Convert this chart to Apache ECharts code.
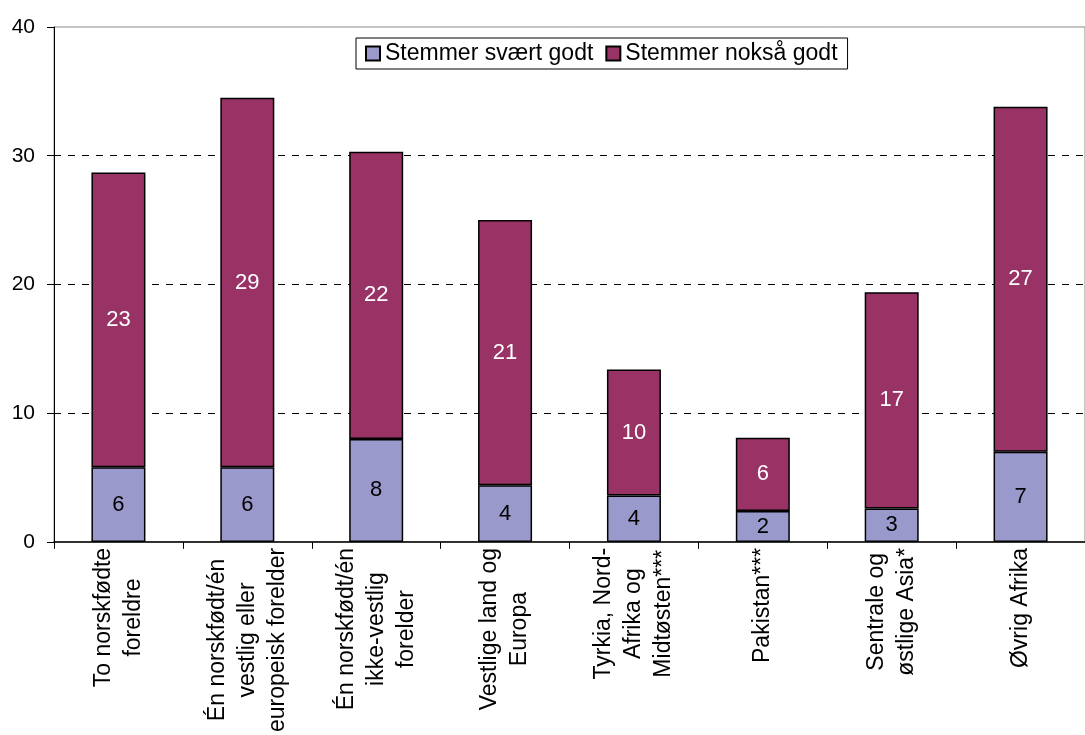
<!DOCTYPE html>
<html>
<head>
<meta charset="utf-8">
<script src="https://cdn.jsdelivr.net/npm/echarts@6/dist/echarts.min.js"></script>
<style>
  html, body { margin: 0; padding: 0; background: #fff; }
  #chart { width: 1085px; height: 735px; }
</style>
</head>
<body>
<div id="chart"></div>
<script>
// Data
const categories = [
    'To norskfødte\nforeldre',
    'Én norskfødt/én\nvestlig eller\neuropeisk forelder',
    'Én norskfødt/én\nikke-vestlig\nforelder',
    'Vestlige land og\nEuropa',
    'Tyrkia, Nord-\nAfrika og\nMidtøsten***',
    'Pakistan***',
    'Sentrale og\nøstlige Asia*',
    'Øvrig Afrika'
];
const seriesNames = ['Stemmer svært godt', 'Stemmer nokså godt'];
const svaertGodt = [5.8, 5.8, 8.0, 4.4, 3.6, 2.4, 2.6, 7.0];
const noksaaGodt = [22.9, 28.7, 22.3, 20.6, 9.8, 5.7, 16.8, 26.8];
const yTicks = { min: 0, max: 40, interval: 10 };

const FONT = '"Liberation Sans", Arial, sans-serif';

document.addEventListener('DOMContentLoaded', function() {
    const chart = echarts.init(document.getElementById('chart'));

    const option = {
        backgroundColor: '#fff',
        animation: false,
        textStyle: { fontFamily: FONT },
        grid: {
            left: 54,
            top: 27,
            width: 1041,
            height: 520,
            show: true,
            borderColor: '#8c8c8c',
            borderWidth: 1,
            backgroundColor: 'transparent'
        },
        legend: {
            left: 356,
            top: 38,
            padding: [4, 10, 4, 9],
            itemWidth: 14,
            itemHeight: 14,
            itemGap: 12,
            icon: 'rect',
            borderColor: '#000',
            borderWidth: 1,
            backgroundColor: '#fff',
            textStyle: { fontSize: 23, color: '#000', fontFamily: FONT },
            data: seriesNames
        },
        xAxis: {
            type: 'category',
            data: categories,
            boundaryGap: true,
            axisLine: { lineStyle: { color: '#000', width: 1.5 } },
            axisTick: { show: true, alignWithLabel: false, length: 7, lineStyle: { color: '#000' } },
            axisLabel: {
                interval: 0,
                rotate: 90,
                margin: 6,
                color: '#000',
                formatter: function(value) {
                    // centre every line inside the rotated block
                    return value.split('\n').map(s => '{c|' + s + '}').join('\n');
                },
                rich: {
                    c: { align: 'center', fontSize: 23, lineHeight: 30, color: '#000', fontFamily: FONT }
                }
            }
        },
        yAxis: {
            type: 'value',
            min: yTicks.min,
            max: yTicks.max,
            interval: yTicks.interval,
            axisLine: { show: true, lineStyle: { color: '#000', width: 1 } },
            axisTick: { show: true, length: 7, lineStyle: { color: '#000' } },
            axisLabel: { fontSize: 21, color: '#000', margin: 19, fontFamily: FONT },
            splitLine: {
                show: true,
                showMinLine: false,
                showMaxLine: false,
                lineStyle: { color: '#000', type: [7, 7], width: 1 }
            }
        },
        series: [
            {
                name: seriesNames[0],
                type: 'bar',
                stack: 'total',
                barWidth: 54,
                data: svaertGodt,
                itemStyle: { color: '#9999cc', borderColor: '#000', borderWidth: 1.5 },
                label: {
                    show: true,
                    position: 'inside',
                    fontSize: 22,
                    color: '#000',
                    fontFamily: FONT,
                    formatter: p => Math.round(p.value)
                }
            },
            {
                name: seriesNames[1],
                type: 'bar',
                stack: 'total',
                barWidth: 54,
                data: noksaaGodt,
                itemStyle: { color: '#993366', borderColor: '#000', borderWidth: 1.5 },
                label: {
                    show: true,
                    position: 'inside',
                    fontSize: 22,
                    color: '#fff',
                    fontFamily: FONT,
                    formatter: p => Math.round(p.value)
                }
            }
        ]
    };

    chart.setOption(option);
});
</script>
</body>
</html>
